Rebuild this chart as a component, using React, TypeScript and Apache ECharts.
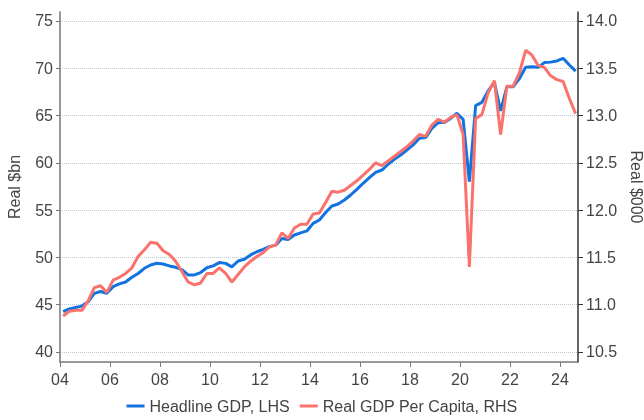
import React, { useEffect, useRef } from "react";
import * as echarts from "echarts";

// Quarterly data, 2004 Q1 .. 2024 Q3 (plotted at mid-quarter)
const START_YEAR = 2004;
const headlineGdp = [
  44.26, 44.55, 44.7, 44.85, 45.3, 46.2, 46.4, 46.2, 46.9, 47.2, 47.4, 47.9,
  48.3, 48.85, 49.2, 49.38, 49.3, 49.1, 48.95, 48.7, 48.15, 48.15, 48.4, 48.9,
  49.1, 49.45, 49.37, 49.0, 49.62, 49.8, 50.26, 50.6, 50.86, 51.14, 51.3, 52.0,
  51.9, 52.37, 52.6, 52.8, 53.6, 53.96, 54.75, 55.44, 55.65, 56.07, 56.6, 57.2,
  57.84, 58.43, 59.0, 59.24, 59.85, 60.38, 60.83, 61.36, 61.9, 62.6, 62.67, 63.65,
  64.25, 64.28, 64.7, 65.24, 64.6, 58.0, 66.05, 66.4, 67.6, 68.5, 65.5, 68.05,
  68.05, 68.9, 70.1, 70.15, 70.1, 70.6, 70.65, 70.77, 71.05, 70.35, 69.7,
];
const gdpPerCapita = [
  10.88, 10.93, 10.94, 10.94, 11.04, 11.18, 11.2, 11.13, 11.26, 11.29, 11.33, 11.39,
  11.51, 11.58, 11.66, 11.65, 11.57, 11.53, 11.46, 11.35, 11.24, 11.21, 11.23, 11.33,
  11.33, 11.39, 11.33, 11.24, 11.32, 11.4, 11.46, 11.51, 11.55, 11.61, 11.63, 11.76,
  11.7, 11.81, 11.85, 11.85, 11.96, 11.97, 12.08, 12.2, 12.19, 12.21, 12.26, 12.31,
  12.37, 12.43, 12.5, 12.47, 12.52, 12.57, 12.62, 12.67, 12.73, 12.8, 12.78, 12.9,
  12.96, 12.93, 12.98, 13.01, 12.8, 11.4, 12.97, 13.01, 13.24, 13.37, 12.8, 13.31,
  13.31, 13.45, 13.69, 13.64, 13.53, 13.51, 13.42, 13.38, 13.36, 13.18, 13.02,
];
const xTicks = [2004, 2006, 2008, 2010, 2012, 2014, 2016, 2018, 2020, 2022, 2024];
const leftTicks = [40, 45, 50, 55, 60, 65, 70, 75];
const rightTicks = [10.5, 11.0, 11.5, 12.0, 12.5, 13.0, 13.5, 14.0];
const seriesNames = ["Headline GDP, LHS", "Real GDP Per Capita, RHS"];

const FONT = "'Liberation Sans', Arial, Helvetica, sans-serif";
const TEXT = "#444";

export default function App() {
  const ref = useRef<HTMLDivElement>(null);
  useEffect(() => {
    if (!ref.current) return;
    const chart = echarts.init(ref.current, undefined, { renderer: "svg" });
    const toX = (i: number) => START_YEAR + (i + 0.5) / 4;
    chart.setOption({
      animation: false,
      textStyle: { fontFamily: FONT },
      grid: {
        left: 60,
        right: 66,
        top: 12,
        bottom: 58,
        containLabel: false,
        outerBoundsMode: "none",
      },
      legend: {
        bottom: 1,
        left: "center",
        icon: "rect",
        itemWidth: 18,
        itemHeight: 3,
        itemGap: 10,
        textStyle: { fontSize: 16, color: TEXT, fontFamily: FONT },
        data: seriesNames,
      },
      xAxis: {
        type: "value",
        min: 2004,
        max: 2024.72,
        axisLine: { show: true, lineStyle: { color: "#777", width: 1.5 } },
        axisTick: {
          show: true,
          length: 5,
          customValues: xTicks,
          lineStyle: { color: "#777" },
        },
        axisLabel: {
          customValues: xTicks,
          fontSize: 16,
          color: TEXT,
          margin: 9,
          formatter: (v: number) => String(Math.round(v) % 100).padStart(2, "0"),
        },
        splitLine: { show: false },
      },
      yAxis: [
        {
          type: "value",
          position: "left",
          min: 38.94,
          max: 75.95,
          splitNumber: 7,
          name: "Real $bn",
          nameLocation: "middle",
          nameGap: 38,
          nameTextStyle: { fontSize: 16, color: TEXT },
          axisLine: { show: true, lineStyle: { color: "#777", width: 1.5 } },
          axisTick: {
            show: true,
            length: 4,
            customValues: leftTicks,
            lineStyle: { color: "#777" },
          },
          axisLabel: {
            customValues: leftTicks,
            fontSize: 16,
            color: TEXT,
            margin: 7,
          },
          splitLine: {
            show: true,
            lineStyle: { color: "#b9c9d3", type: "dotted", width: 1 },
          },
        },
        {
          type: "value",
          position: "right",
          min: 10.394,
          max: 14.095,
          splitNumber: 7,
          name: "Real $000",
          nameLocation: "middle",
          nameRotate: -90,
          nameGap: 50,
          nameTextStyle: { fontSize: 16, color: TEXT },
          axisLine: { show: true, lineStyle: { color: "#333", width: 1.5 } },
          axisTick: {
            show: true,
            length: 5,
            customValues: rightTicks,
            lineStyle: { color: "#333" },
          },
          axisLabel: {
            customValues: rightTicks,
            fontSize: 16,
            color: TEXT,
            margin: 8,
            formatter: (v: number) => v.toFixed(1),
          },
          splitLine: { show: false },
        },
      ],
      series: [
        {
          name: seriesNames[0],
          type: "line",
          yAxisIndex: 0,
          showSymbol: false,
          symbol: "none",
          color: "#1273e0",
          lineStyle: { width: 3, color: "#1273e0" },
          data: headlineGdp.map((v, i) => [toX(i), v]),
        },
        {
          name: seriesNames[1],
          type: "line",
          yAxisIndex: 1,
          showSymbol: false,
          symbol: "none",
          color: "#fa726c",
          lineStyle: { width: 3, color: "#fa726c" },
          data: gdpPerCapita.map((v, i) => [toX(i), v]),
        },
      ],
    });
    return () => chart.dispose();
  }, []);
  return (
    <div
      ref={ref}
      style={{ position: "fixed", left: 0, top: 0, width: 644, height: 420 }}
    />
  );
}
